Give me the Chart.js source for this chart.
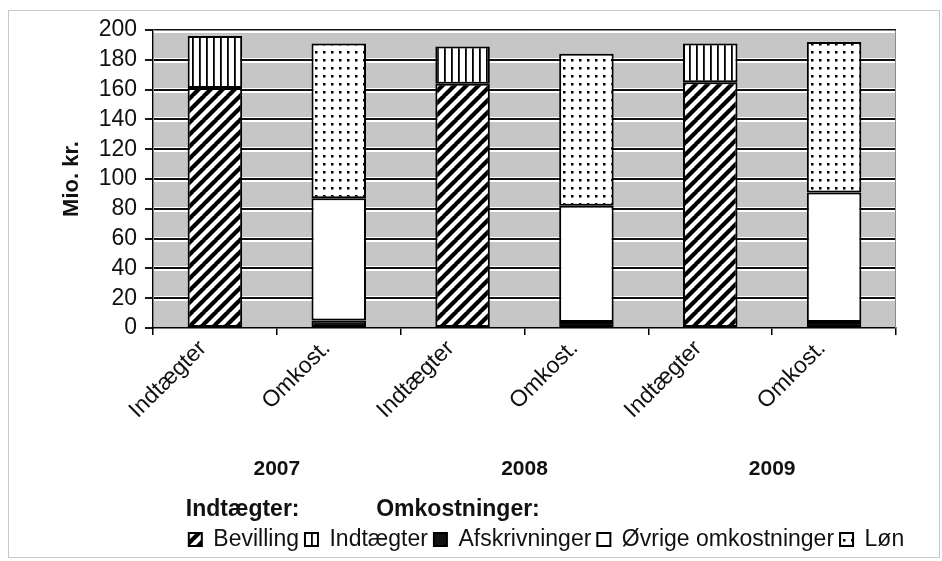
<!DOCTYPE html>
<html>
<head>
<meta charset="utf-8">
<script src="https://cdn.jsdelivr.net/npm/chart.js@4/dist/chart.umd.min.js"></script>
<style>
  html, body { margin: 0; padding: 0; background: #fff; }
  #wrap { width: 942px; height: 561px; }
</style>
</head>
<body>
<div id="wrap"><canvas id="chart"></canvas></div>
<script>
var categories = ['Indtægter', 'Omkost.', 'Indtægter', 'Omkost.', 'Indtægter', 'Omkost.'];
var years = ['2007', '2008', '2009'];
var yTicks = [0, 20, 40, 60, 80, 100, 120, 140, 160, 180, 200];

// Indtægter
var bevilling = [161, null, 164, null, 165, null];
var indtaegter = [35, null, 25, null, 26, null];
// Omkostninger
var afskrivninger = [null, 5, null, 4, null, 4];
var oevrige = [null, 82, null, 78, null, 87];
var loen = [null, 104, null, 102, null, 101];

var FONT = "'Liberation Sans', Arial, sans-serif";

function makePattern(size, draw) {
  var c = document.createElement('canvas');
  c.width = size; c.height = size;
  var g = c.getContext('2d');
  g.fillStyle = '#fff';
  g.fillRect(0, 0, size, size);
  g.fillStyle = '#000';
  g.strokeStyle = '#000';
  draw(g, size);
  return g.createPattern(c, 'repeat');
}

var ctx = document.getElementById('chart').getContext('2d');

//diagonal stripes like /
var diagPattern = makePattern(12, function(g, s) {
  g.lineWidth = 4.2;
  for (var k = -1; k <= 1; k++) {
    g.beginPath();
    g.moveTo(k * s - 1, s + 1);
    g.lineTo(k * s + s + 1, -1);
    g.stroke();
  }
});
//vertical lines
var vertPattern = makePattern(7, function(g, s) {
  g.fillRect(3, 0, 1.8, s);
});
//dots
var dotPattern = makePattern(8, function(g, s) {
  g.fillRect(3, 3, 2.5, 2.5);
});

//plot area background, grid lines with a white halo, plus outer frame
var backdrop = {
  id: 'backdrop',
  afterLayout: function(chart) {
    //legend row sits a bit right of the plot centre in the original
    chart.legend.left += 22;
    chart.legend.right += 22;
  },
  beforeDraw: function(chart) {
    var c = chart.ctx;
    c.save();
    c.strokeStyle = '#c8c8c8';
    c.lineWidth = 1;
    c.strokeRect(8.5, 10.5, 931, 547);
    c.restore();
  },
  beforeDatasetsDraw: function(chart) {
    var c = chart.ctx, a = chart.chartArea, y = chart.scales.y;
    c.save();
    c.fillStyle = '#c6c6c6';
    c.fillRect(a.left + 1, a.top, a.right - a.left - 1, a.bottom - a.top - 1);
    yTicks.forEach(function(v) {
      var py = Math.round(y.getPixelForValue(v));
      if (v === 0) return;
      c.fillStyle = '#ffffff';
      c.fillRect(a.left + 1, py - 2, a.right - a.left - 1, 5);
      c.fillStyle = '#111111';
      c.fillRect(a.left + 1, py - 1, a.right - a.left - 1, 2);
    });
    c.strokeStyle = '#8a8a8a';
    c.lineWidth = 1;
    c.beginPath();
    c.moveTo(a.left, a.top + 0.5);
    c.lineTo(a.right - 0.5, a.top + 0.5);
    c.lineTo(a.right - 0.5, a.bottom);
    c.stroke();
    c.restore();
  }
};

function ds(label, data, fill) {
  return {
    label: label,
    data: data,
    backgroundColor: fill,
    borderColor: '#000',
    borderWidth: 2,
    borderSkipped: false,
    barPercentage: 0.44,
    categoryPercentage: 1.0
  };
}

var chart = new Chart(ctx, {
  type: 'bar',
  data: {
    labels: categories,
    datasets: [
      ds('Bevilling', bevilling, diagPattern),
      ds('Indtægter', indtaegter, vertPattern),
      ds('Afskrivninger', afskrivninger, '#111'),
      ds('Øvrige omkostninger', oevrige, '#fff'),
      ds('Løn', loen, dotPattern)
    ]
  },
  options: {
    responsive: true,
    maintainAspectRatio: false,
    animation: false,
    layout: { padding: { top: 30, right: 46, left: 0, bottom: 0 } },
    plugins: {
      tooltip: { enabled: false },
      legend: {
        position: 'bottom',
        fullSize: false,
        align: 'center',
        title: {
          display: true,
          text: 'Indtægter:            Omkostninger:',
          position: 'start',
          color: '#111',
          font: { family: FONT, size: 23, weight: 'bold', lineHeight: 1 },
          padding: { top: 10, bottom: 1 }
        },
        labels: {
          color: '#111',
          font: { family: FONT, size: 23 },
          boxWidth: 13,
          boxHeight: 13,
          padding: 6
        }
      }
    },
    scales: {
      x: {
        stacked: true,
        grid: { display: true, offset: true, drawOnChartArea: false, tickLength: 7, color: '#000', lineWidth: 1.5 },
        border: { display: true, color: '#000', width: 1.5 },
        ticks: {
          color: '#111',
          font: { family: FONT, size: 23 },
          minRotation: 45,
          maxRotation: 45,
          labelOffset: -12,
          padding: 0
        },
        afterFit: function(s) { s.height = 118; }
      },
      x2: {
        type: 'category',
        position: 'bottom',
        labels: years,
        offset: true,
        grid: { display: false },
        border: { display: false },
        ticks: {
          color: '#111',
          font: { family: FONT, size: 21, weight: 'bold' }
        },
        afterFit: function(s) { s.height = 42; }
      },
      y: {
        stacked: true,
        min: 0,
        max: 200,
        grid: { color: '#1a1a1a', lineWidth: 2, tickLength: 8, drawOnChartArea: false },
        border: { display: true, color: '#000', width: 1.5 },
        ticks: {
          stepSize: 20,
          autoSkip: false,
          color: '#111',
          font: { family: FONT, size: 23 },
          padding: 8
        },
        title: {
          display: true,
          text: 'Mio. kr.',
          color: '#111',
          font: { family: FONT, size: 22, weight: 'bold' },
          padding: { top: 59, bottom: 0 }
        },
        afterFit: function(s) { s.width = 153; }
      }
    }
  },
  plugins: [backdrop]
});
</script>
</body>
</html>
